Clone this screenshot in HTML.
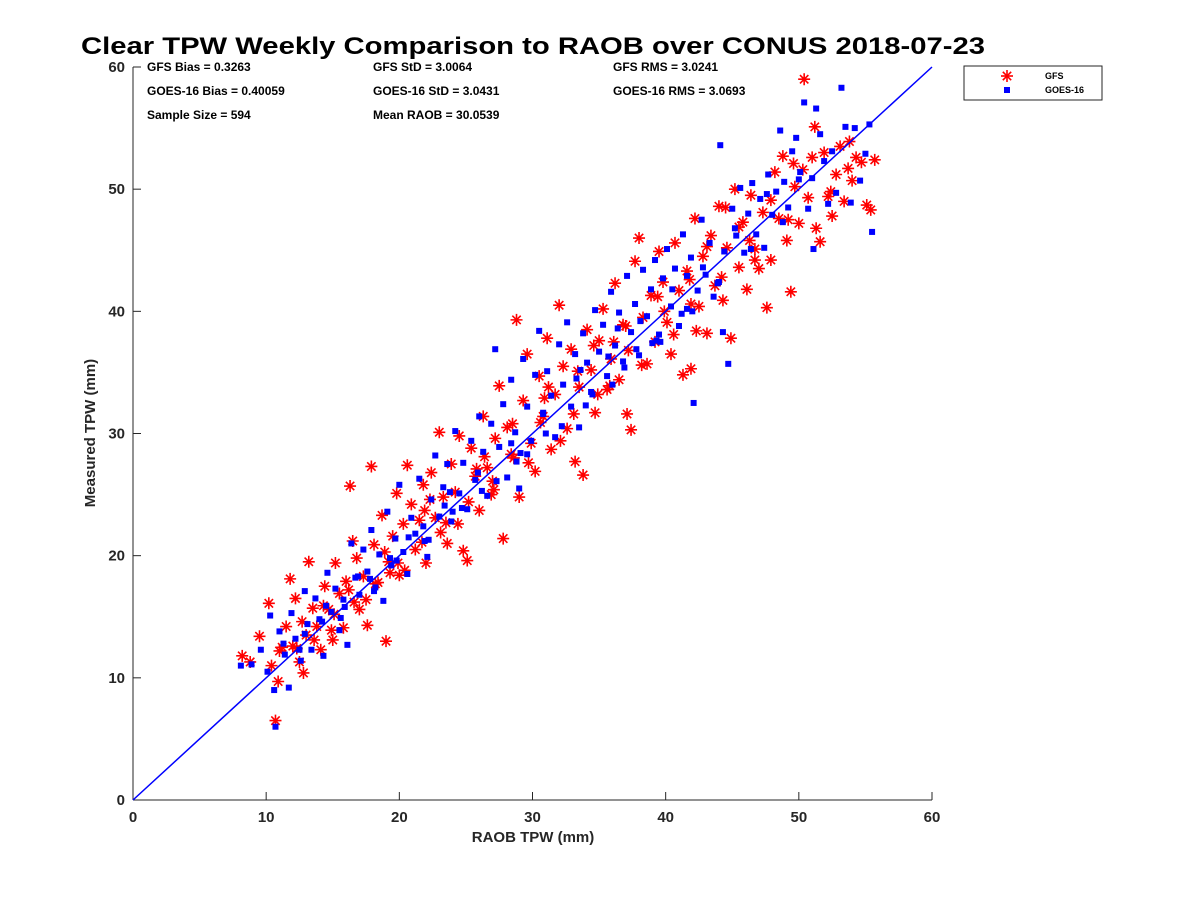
<!DOCTYPE html>
<html><head><meta charset="utf-8"><style>
html,body{margin:0;padding:0;background:#fff;}
svg{display:block;font-family:"Liberation Sans","DejaVu Sans",sans-serif;}
</style></head><body>
<svg id="chart" width="1200" height="900" viewBox="0 0 1200 900">
<text x="533" y="54" font-size="24" font-weight="bold" text-anchor="middle" textLength="904" lengthAdjust="spacingAndGlyphs">Clear TPW Weekly Comparison to RAOB over CONUS 2018-07-23</text>
<g font-size="12" font-weight="bold">
<text x="147" y="71">GFS Bias = 0.3263</text>
<text x="373" y="71">GFS StD = 3.0064</text>
<text x="613" y="71">GFS RMS = 3.0241</text>
<text x="147" y="95">GOES-16 Bias = 0.40059</text>
<text x="373" y="95">GOES-16 StD = 3.0431</text>
<text x="613" y="95">GOES-16 RMS = 3.0693</text>
<text x="147" y="119">Sample Size = 594</text>
<text x="373" y="119">Mean RAOB = 30.0539</text>
</g>
<g id="axes"></g>
<g id="marks"></g>
<g>
<rect x="964" y="66" width="138" height="34" fill="#fff" stroke="#262626" stroke-width="1"/>
<g stroke="#f00" stroke-width="1.6">
<line x1="1001" y1="76" x2="1013" y2="76"/><line x1="1007" y1="70" x2="1007" y2="82"/><line x1="1002.8" y1="71.8" x2="1011.2" y2="80.2"/><line x1="1002.8" y1="80.2" x2="1011.2" y2="71.8"/></g>
<rect x="1004" y="87" width="6" height="6" fill="#00f"/>
<text x="1045" y="79" font-size="9" font-weight="bold">GFS</text>
<text x="1045" y="93" font-size="9" font-weight="bold">GOES-16</text>
</g>
</svg>
<script>
const xTicks=[0,10,20,30,40,50,60];
const yTicks=[0,10,20,30,40,50,60];
const gfsX=[8.2,8.8,9.5,10.2,10.4,10.7,10.9,11.2,11.5,11.8,12,12.2,12.5,12.8,13,13.2,13.5,13.8,14.1,14.4,14.7,15,15.2,15.5,15.8,16,16.3,16.5,16.8,17,17.3,17.6,17.9,18.1,18.4,18.7,19,19.2,19.5,19.8,20,20.3,20.6,20.9,21.2,21.5,21.8,22,22.4,22.7,23,23.3,23.6,23.9,24.2,24.5,24.8,25.1,25.4,25.7,26,26.3,26.6,26.9,27.2,27.5,27.8,28.1,28.4,28.8,29,29.3,29.6,29.9,30.2,30.5,30.8,31.1,31.4,31.7,32,32.3,32.6,32.9,33.2,33.5,33.8,34.1,34.4,34.7,35,35.3,35.6,35.9,36.2,36.5,36.8,37.1,37.4,37.7,38,38.3,38.6,38.9,39.2,39.5,39.8,40.1,40.4,40.7,41,41.3,41.6,41.9,42.2,42.5,42.8,43.1,43.4,43.7,44,44.3,44.6,44.9,45.2,45.5,45.8,46.1,46.4,46.7,47,47.3,47.6,47.9,48.2,48.5,48.8,49.1,49.4,49.7,50,50.4,50.7,51,51.3,51.6,51.9,52.2,52.5,52.8,53.1,53.4,53.7,54,54.3,54.7,55.1,55.4,55.7,51.2,49.6,46.3,44.5,41.8,39.9,37.2,34.9,33.1,30.6,28.6,27,25.2,23.5,21.7,19.9,18.2,16.6,15.1,13.6,12.3,
 11,12.7,14.9,16.2,17.5,18.9,20.4,21.9,23.1,24.4,25.8,27.1,28.5,29.7,30.9,32.1,33.4,34.6,35.8,37,38.2,39.4,40.6,41.9,43.1,44.2,45.5,46.7,47.9,49.2,50.3,52.4,53.8,42.3,36.1,31.2,26.4,22.3,19.3,14.3];
const gfsY=[11.8,11.3,13.4,16.1,11,6.5,9.7,12.5,14.2,18.1,12.6,16.5,11.3,10.4,13.5,19.5,15.7,14.2,12.3,17.5,15.6,13.1,19.4,16.9,14.1,17.9,25.7,21.2,19.8,15.6,18.3,14.3,27.3,20.9,17.8,23.3,13,19.5,21.6,25.1,18.4,22.6,27.4,24.2,20.5,22.9,25.8,19.4,26.8,23.1,30.1,24.8,21,27.5,25.2,29.8,20.4,19.6,28.8,26.5,23.7,31.4,27.2,25,29.6,33.9,21.4,30.5,28.3,39.3,24.8,32.7,36.5,29.2,26.9,34.7,31.4,37.8,28.7,33.2,40.5,35.5,30.4,36.9,27.7,33.8,26.6,38.5,35.2,31.7,37.6,40.2,33.6,36.1,42.3,34.4,38.9,31.6,30.3,44.1,46,39.5,35.7,41.3,37.5,44.9,42.4,39.1,36.5,45.6,41.7,34.8,43.3,35.3,47.6,40.4,44.5,38.2,46.2,42.1,48.6,40.9,45.2,37.8,50,43.6,47.3,41.8,49.5,45.1,43.5,48.1,40.3,44.2,51.4,47.6,52.7,45.8,41.6,50.2,47.2,59,49.3,52.6,46.8,45.7,53,49.4,47.8,51.2,53.5,49,51.7,50.7,52.6,52.2,48.7,48.3,52.4,55.1,52.1,45.8,48.5,42.6,40,36.8,33.2,31.6,30.9,28,26.1,24.4,22.7,21.1,19.4,17.7,16.2,15.2,13.1,12.4,
 12.2,14.6,13.9,17.2,16.4,20.3,18.8,23.7,21.9,22.6,27.1,25.4,30.8,27.6,32.9,29.4,35.1,37.2,33.9,38.8,35.6,41.2,38.1,40.6,45.3,42.8,46.9,44.2,49.1,47.5,51.6,49.8,53.9,38.4,37.5,33.8,28.1,24.6,18.6,15.9];
const goesX=[8.1,8.9,9.6,10.1,10.3,10.6,10.7,11,11.4,11.7,11.9,12.2,12.6,12.9,13.1,13.4,13.7,14,14.3,14.6,14.9,15.2,15.5,15.8,16.1,16.4,16.7,17,17.3,17.6,17.9,18.2,18.5,18.8,19.1,19.4,19.7,20,20.3,20.6,20.9,21.2,21.5,21.8,22.1,22.4,22.7,23,23.3,23.6,23.9,24.2,24.5,24.8,25.1,25.4,25.7,26,26.3,26.6,26.9,27.2,27.5,27.8,28.1,28.4,28.7,29,29.3,29.6,29.9,30.2,30.5,30.8,31.1,31.4,31.7,32,32.3,32.6,32.9,33.2,33.5,33.8,34.1,34.4,34.7,35,35.3,35.6,35.9,36.2,36.5,36.8,37.1,37.4,37.7,38,38.3,38.6,38.9,39.2,39.5,39.8,40.1,40.4,40.7,41,41.3,41.6,41.9,42.1,42.4,42.7,43,43.3,43.6,44.1,44.4,44.7,45,45.3,45.6,45.9,46.2,46.5,46.8,47.1,47.4,47.7,48,48.3,48.6,48.9,49.2,49.5,49.8,50.1,50.4,50.7,51,51.3,51.6,51.9,52.2,52.5,52.8,53.2,53.5,53.9,54.2,54.6,55,55.3,55.5,51.1,44.3,42,39,36,34,31,28.8,26.2,24,21.9,19.8,17.8,15.9,14.2,12.5,
 11.3,12.9,14.5,15.6,16.9,18.1,19.3,20.7,22.2,23.4,24.7,25.9,27.3,28.4,29.6,30.8,32.2,33.3,34.5,35.7,36.9,38.1,39.3,40.5,41.6,42.8,44,45.2,46.4,47.6,48.8,50,36.4,37.8,39.6,41.2,43.9,33.6,29.1,23.8];
const goesY=[11,11.1,12.3,10.5,15.1,9,6,13.8,11.9,9.2,15.3,13.2,11.4,17.1,14.4,12.3,16.5,14.8,11.8,18.6,15.4,17.3,13.9,16.4,12.7,21,18.2,16.8,20.5,18.7,22.1,17.4,20.1,16.3,23.6,19.2,21.4,25.8,20.3,18.5,23.1,21.8,26.3,22.4,19.9,24.6,28.2,23.2,25.6,27.5,22.8,30.2,25.1,27.6,23.8,29.4,26.2,31.4,28.5,24.9,30.8,36.9,28.9,32.4,26.4,34.4,30.1,25.5,36.1,32.2,29.4,34.8,38.4,31.6,35.1,33.1,29.7,37.3,34,39.1,32.2,36.5,30.5,38.2,35.8,33.4,40.1,36.7,38.9,34.7,41.6,37.2,39.9,35.9,42.9,38.3,40.6,36.4,43.4,39.6,41.8,44.2,38.1,42.7,45.1,40.4,43.5,38.8,46.3,42.9,44.4,32.5,41.7,47.5,43,45.6,41.2,53.6,44.9,35.7,48.4,46.2,50.1,44.8,48,50.5,46.3,49.2,45.2,51.2,47.9,49.8,54.8,50.6,48.5,53.1,54.2,51.4,57.1,48.4,50.9,56.6,54.5,52.3,48.8,53.1,49.7,58.3,55.1,48.9,55,50.7,52.9,55.3,46.5,45.1,38.3,40,37.4,34,32.3,30,27.7,25.3,23.6,21.2,19.6,18.1,15.8,14.6,12.3,
 12.8,13.6,15.9,14.9,18.3,17.1,19.8,21.5,21.3,24.1,23.9,26.8,26.1,29.2,28.3,31.7,30.6,34.5,33.2,36.3,35.4,39.2,37.6,41.8,40.2,43.6,42.4,46.8,45.1,49.6,47.3,50.8,38.6,36.9,37.5,39.8,42.3,35.2,28.4,25.2];

const NS='http://www.w3.org/2000/svg';
const X0=133,X1=932,Y0=800,Y1=67,XMIN=0,XMAX=60,YMIN=0,YMAX=60;
function sx(v){return X0+(v-XMIN)/(XMAX-XMIN)*(X1-X0);}
function sy(v){return Y0-(v-YMIN)/(YMAX-YMIN)*(Y0-Y1);}
function mk(tag,attrs,parent){const e=document.createElementNS(NS,tag);for(const k in attrs)e.setAttribute(k,attrs[k]);parent.appendChild(e);return e;}
const axes=document.getElementById('axes'),marks=document.getElementById('marks');

const xa=mk('line',{x1:X0,y1:Y0,x2:X1,y2:Y0,stroke:'#262626','stroke-width':1},axes);


const ya=mk('line',{x1:X0,y1:Y0,x2:X0,y2:Y1,stroke:'#262626','stroke-width':1},axes);


xTicks.forEach(t=>{
  const l=mk('line',{x1:sx(t),y1:Y0,x2:sx(t),y2:Y0-8,stroke:'#262626'},axes);
  
  
  const tx=mk('text',{x:sx(t),y:Y0+22,'font-size':15,'font-weight':'bold','text-anchor':'middle',fill:'#262626'},axes);
  tx.textContent=t;
  
  
});
yTicks.forEach(t=>{
  const l=mk('line',{x1:X0,y1:sy(t),x2:X0+8,y2:sy(t),stroke:'#262626'},axes);
  
  
  const tx=mk('text',{x:X0-8,y:sy(t)+5,'font-size':15,'font-weight':'bold','text-anchor':'end',fill:'#262626'},axes);
  tx.textContent=t;
  
  
});
const xl=mk('text',{x:533,y:842,'font-size':15,'font-weight':'bold','text-anchor':'middle',fill:'#262626'},axes);
xl.textContent='RAOB TPW (mm)';


const yl=mk('text',{x:95,y:433,'font-size':15,'font-weight':'bold','text-anchor':'middle',fill:'#262626',transform:'rotate(-90 95 433)'},axes);
yl.textContent='Measured TPW (mm)';



gfsX.forEach((v,i)=>{
  const cx=sx(v),cy=sy(gfsY[i]),r=6,d=4.2;
  const g=mk('path',{d:`M${cx-r},${cy}H${cx+r}M${cx},${cy-r}V${cy+r}M${cx-d},${cy-d}L${cx+d},${cy+d}M${cx-d},${cy+d}L${cx+d},${cy-d}`,stroke:'#f00','stroke-width':1.6,fill:'none'},marks);
  
  
});
goesX.forEach((v,i)=>{
  const r=mk('rect',{x:sx(v)-3,y:sy(goesY[i])-3,width:6,height:6,fill:'#00f'},marks);
  
  
});
const ref=mk('line',{x1:sx(0),y1:sy(0),x2:sx(60),y2:sy(60),stroke:'#00f','stroke-width':1.5},marks);


</script>
</body></html>
